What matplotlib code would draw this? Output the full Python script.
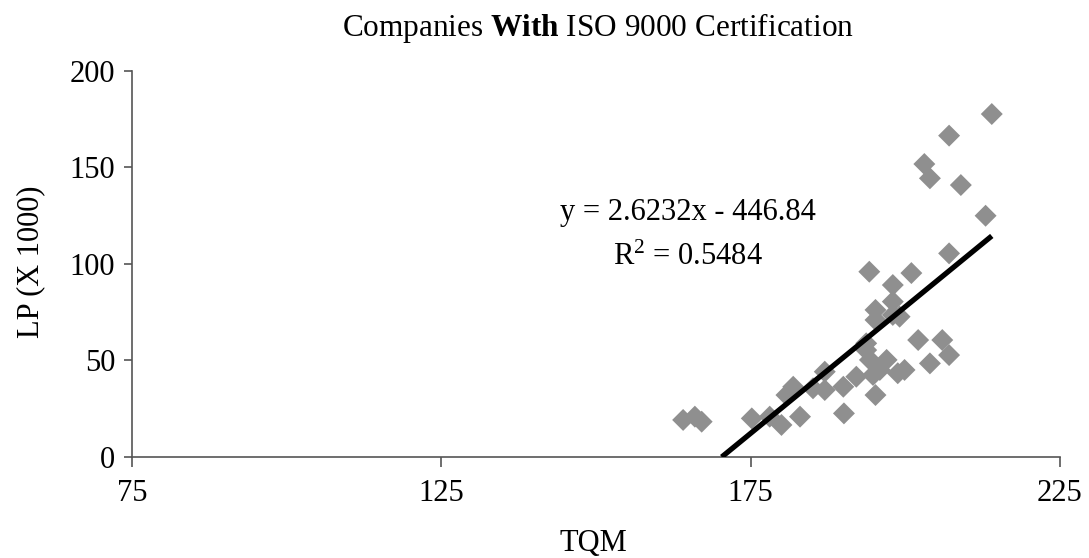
import matplotlib
matplotlib.use("Agg")
import matplotlib.pyplot as plt
import numpy as np

# TQM score vs. labour productivity for ISO 9000 certified companies
tqm = [214.0, 207.1, 203.1, 204.0, 209.0, 213.0, 207.1, 194.2, 198.0, 201.0,
       198.0, 195.2, 195.2, 199.1, 198.0, 202.1, 206.0, 207.1, 204.0, 199.9,
       198.8, 197.0, 193.7, 194.3, 194.8, 195.2, 192.1, 190.0, 187.0, 187.0,
       185.1, 181.9, 180.8, 190.1, 183.0, 180.0, 178.1, 175.2, 164.1, 166.0,
       167.1, 195.9, 193.7]
lp = [177.7, 166.5, 151.8, 144.4, 140.9, 125.0, 105.5, 96.0, 89.1, 95.3,
      80.5, 76.2, 71.0, 72.7, 73.6, 60.6, 60.6, 52.8, 48.5, 45.1,
      43.4, 50.3, 55.4, 50.3, 42.5, 32.1, 41.6, 36.4, 34.7, 44.2,
      35.6, 36.4, 32.1, 22.6, 20.9, 16.6, 20.9, 20.0, 19.2, 20.9,
      18.3, 45.1, 58.9]

slope, intercept = 2.6232, -446.84
r_squared = 0.5484

x_ticks = [75, 125, 175, 225]
y_ticks = [0, 50, 100, 150, 200]

plt.rcParams['font.family'] = ['Liberation Serif', 'DejaVu Serif']
plt.rcParams['mathtext.fontset'] = 'custom'
plt.rcParams['mathtext.rm'] = 'Liberation Serif'
plt.rcParams['mathtext.it'] = 'Liberation Serif:italic'
plt.rcParams['mathtext.bf'] = 'Liberation Serif:bold'

FS = 22

fig = plt.figure(figsize=(10.89, 5.58), dpi=100)
ax = fig.add_axes([0.1212, 0.181, 0.852, 0.6918])

ax.scatter(tqm, lp, marker='D', s=125, color='#8f8f8f', edgecolors='none', zorder=2)

x0 = -intercept / slope
x1 = max(tqm)
xs = np.array([x0, x1])
ax.plot(xs, slope * xs + intercept, color='black', lw=3.8, solid_capstyle='butt', zorder=3)

ax.text(164.8, 122.8, f"y = {slope}x - {abs(intercept)}", fontsize=FS,
        ha='center', va='baseline')
ax.text(164.8, 99.5, r"R$^{2}$ = " + f"{r_squared}", fontsize=FS,
        ha='center', va='baseline')

ax.set_xlim(75, 225)
ax.set_ylim(0, 200)
ax.set_xticks(x_ticks)
ax.set_yticks(y_ticks)
ax.tick_params(axis='both', labelsize=FS, colors='#555555', labelcolor='black')
ax.tick_params(axis='x', length=7, width=1.2, pad=9)
ax.tick_params(axis='y', length=6, width=1.2, pad=6)
for side in ('top', 'right'):
    ax.spines[side].set_visible(False)
for side in ('left', 'bottom'):
    ax.spines[side].set_color('#555555')
    ax.spines[side].set_linewidth(1.2)

ax.set_xlabel("TQM", fontsize=FS)
ax.xaxis.set_label_coords(0.497, -0.224)
ax.xaxis.label.set_va('center')
ax.set_ylabel("LP (X 1000)", fontsize=FS)
ax.yaxis.set_label_coords(-0.109, 0.505)
ax.yaxis.label.set_va('center')
fig.text(0.549, 0.95, r"Companies $\mathbf{With}$ ISO 9000 Certification",
         fontsize=22.5, ha='center', va='center')

fig.savefig("out.png", dpi=100)
